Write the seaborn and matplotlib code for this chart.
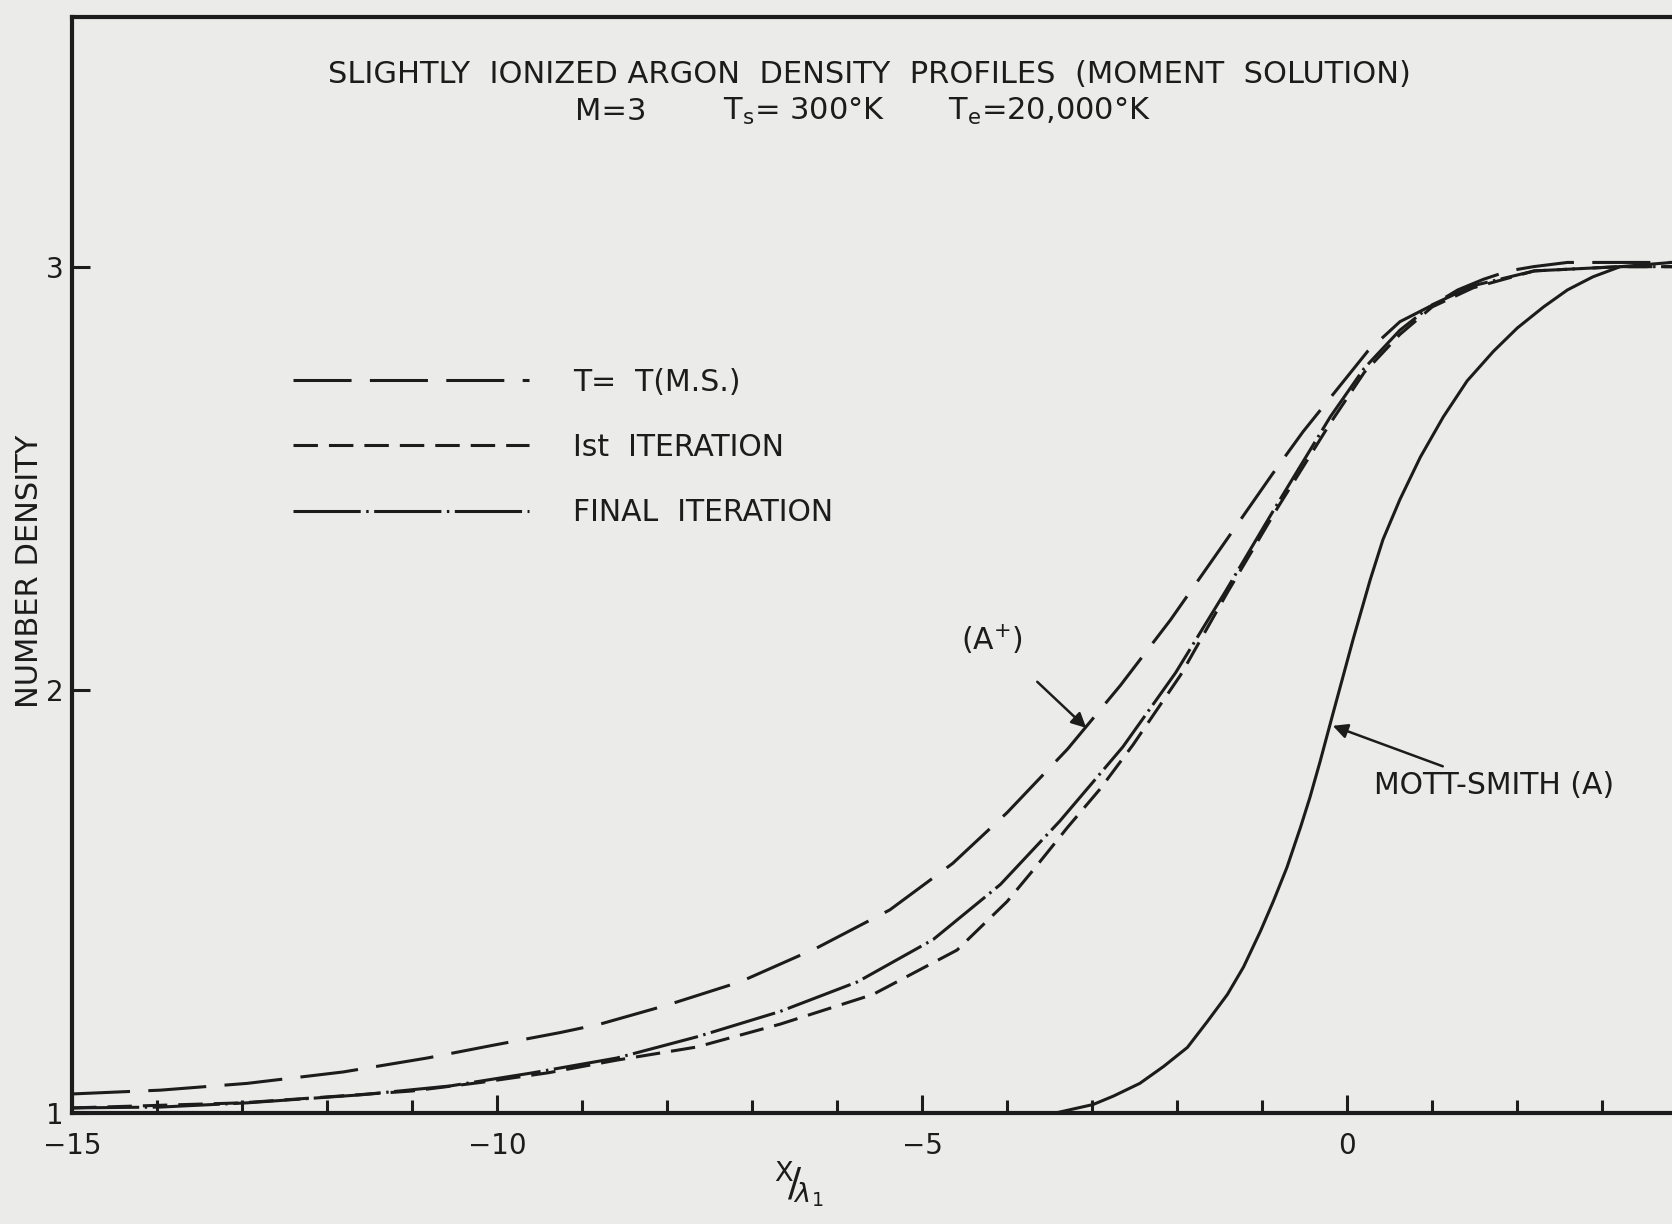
import numpy as np
import pandas as pd
import matplotlib
matplotlib.use("Agg")
import matplotlib.pyplot as plt
import seaborn as sns

# values (x = X/lambda_1, y = number density)
ms_x = [-15.0, -13.96, -12.94, -11.81, -10.82, -10.05, -9.26, -8.79, -8.0, -7.14,
        -6.24, -5.38, -4.64, -4.0, -3.29, -2.67, -2.08, -1.47, -0.88, -0.52, -0.16,
        0.24, 0.62, 1.01, 1.3, 1.6, 1.9, 2.19, 2.59, 3.21, 3.82]
ms_y = [1.045, 1.054, 1.07, 1.097, 1.13, 1.16, 1.19, 1.21, 1.255, 1.31,
        1.39, 1.48, 1.59, 1.71, 1.86, 2.01, 2.165, 2.34, 2.51, 2.61, 2.70,
        2.80, 2.87, 2.91, 2.945, 2.97, 2.99, 3.0, 3.01, 3.01, 3.01]

it1_x = [-15.0, -13.0, -11.0, -10.2, -9.4, -8.59, -7.65, -6.67, -5.58, -4.59,
         -4.0, -3.69, -3.29, -2.91, -2.52, -1.96, -1.41, -0.82, -0.2, 0.2, 0.62,
         1.0, 1.48, 2.2, 3.2, 3.82]
it1_y = [1.012, 1.024, 1.052, 1.072, 1.095, 1.125, 1.156, 1.21, 1.28, 1.385,
         1.50, 1.575, 1.675, 1.765, 1.87, 2.035, 2.23, 2.43, 2.63, 2.75, 2.84,
         2.905, 2.95, 2.99, 3.0, 3.0]

fin_x = [-15.0, -13.96, -12.94, -11.6, -10.55, -9.58, -8.59, -7.65, -6.67, -5.76,
         -4.87, -4.08, -3.38, -2.64, -2.02, -1.44, -0.82, -0.2, 0.2, 0.62, 1.0,
         1.48, 2.2, 3.2, 3.82]
fin_y = [1.012, 1.014, 1.024, 1.043, 1.064, 1.095, 1.13, 1.18, 1.24, 1.31,
         1.41, 1.54, 1.69, 1.865, 2.04, 2.23, 2.44, 2.645, 2.76, 2.85, 2.91,
         2.955, 2.99, 3.0, 3.0]

mott_x = [-3.5, -3.41, -2.99, -2.75, -2.44, -2.16, -1.88, -1.65, -1.41, -1.22,
          -1.02, -0.87, -0.71, -0.55, -0.44, -0.32, -0.2, 0.07, 0.27, 0.42, 0.62,
          0.86, 1.13, 1.41, 1.72, 2.0, 2.31, 2.59, 2.89, 3.21, 3.82]
mott_y = [1.0, 1.001, 1.02, 1.04, 1.07, 1.11, 1.155, 1.215, 1.28, 1.345,
          1.43, 1.50, 1.58, 1.675, 1.745, 1.83, 1.92, 2.12, 2.26, 2.355, 2.45,
          2.55, 2.645, 2.73, 2.80, 2.855, 2.905, 2.945, 2.976, 3.0, 3.01]

legend_labels = ["T=  T(M.S.)", "Ist  ITERATION", "FINAL  ITERATION"]
x_ticks = [-15, -10, -5, 0]
y_ticks = [1, 2, 3]

paper = "#ebebea"
ink = "#1c1c1c"

sns.set_style("ticks")
plt.rcParams["font.family"] = ["DejaVu Sans"]
plt.rcParams["mathtext.fontset"] = "dejavusans"

fig = plt.figure(figsize=(16.72, 12.24), dpi=100, facecolor=paper)
ax = fig.add_axes([72 / 1672, 1 - 1113 / 1224, 1600 / 1672, (1113 - 17) / 1224])
ax.set_facecolor(paper)

lw = 2.2
sns.lineplot(x=ms_x, y=ms_y, ax=ax, color=ink, linewidth=lw,
             linestyle=(0, (19, 6)), label=legend_labels[0])
sns.lineplot(x=it1_x, y=it1_y, ax=ax, color=ink, linewidth=lw,
             linestyle=(0, (8, 3.6)), label=legend_labels[1])
sns.lineplot(x=fin_x, y=fin_y, ax=ax, color=ink, linewidth=lw,
             linestyle=(0, (22, 1.8, 0.8, 1.8)), label=legend_labels[2])
sns.lineplot(x=mott_x, y=mott_y, ax=ax, color=ink, linewidth=lw)

ax.set_xlim(-15, 3.82)
ax.set_ylim(1, 3.59)

ax.set_xticks(x_ticks)
ax.set_xticks(np.arange(-14, 4, 1), minor=True)
ax.set_xticklabels(["\u221215", "\u221210", "\u22125", "0"])
ax.set_yticks(y_ticks)
ax.set_yticklabels([str(v) for v in y_ticks])
ax.tick_params(axis="both", which="major", direction="in", length=13, width=2.2,
               color=ink, labelcolor=ink, labelsize=20)
ax.tick_params(axis="y", which="major", pad=6)
ax.tick_params(axis="x", which="major", pad=14)
ax.tick_params(axis="x", which="minor", direction="in", length=9.5, width=2.2, color=ink)

for side in ["left", "bottom", "top"]:
    ax.spines[side].set_linewidth(3)
    ax.spines[side].set_color(ink)
ax.spines["right"].set_visible(False)

ax.set_xlabel(r"${}^{\mathrm{X}}\!/\!{}_{\lambda_{1}}$", fontsize=28, color=ink)
ax.xaxis.set_label_coords(0.454, -0.042)
ax.set_ylabel("NUMBER DENSITY", fontsize=22, color=ink)
ax.yaxis.set_label_coords(-0.0175, 0.494)

leg = ax.legend(loc="upper left", bbox_to_anchor=(0.138, 0.68), frameon=False,
                fontsize=21.5, handlelength=7.9, handletextpad=1.5, labelspacing=1.21,
                labelcolor=ink, borderaxespad=0, borderpad=0)

fig.text(0.5197, 0.939, "SLIGHTLY  IONIZED ARGON  DENSITY  PROFILES  (MOMENT  SOLUTION)",
         ha="center", va="center", fontsize=22, color=ink)
fig.text(0.365, 0.909, "M=3", ha="center", va="center", fontsize=22, color=ink)
fig.text(0.481, 0.909, r"T$_\mathrm{s}$= 300°K", ha="center", va="center", fontsize=22, color=ink)
fig.text(0.628, 0.909, r"T$_\mathrm{e}$=20,000°K", ha="center", va="center", fontsize=22, color=ink)

ax.annotate(r"(A$^{+}$)", xy=(-3.07, 1.91), xytext=(-4.18, 2.12),
            ha="center", va="center", fontsize=21.5, color=ink,
            arrowprops=dict(arrowstyle="-|>", color=ink, lw=1.8,
                            mutation_scale=22, shrinkA=24, shrinkB=0))
ax.annotate("MOTT-SMITH (A)", xy=(-0.17, 1.915), xytext=(0.31, 1.775),
            ha="left", va="center", fontsize=21.5, color=ink,
            arrowprops=dict(arrowstyle="-|>", color=ink, lw=1.8,
                            mutation_scale=22, shrinkA=2, shrinkB=0))

fig.savefig("out.png", dpi=100, facecolor=paper)
